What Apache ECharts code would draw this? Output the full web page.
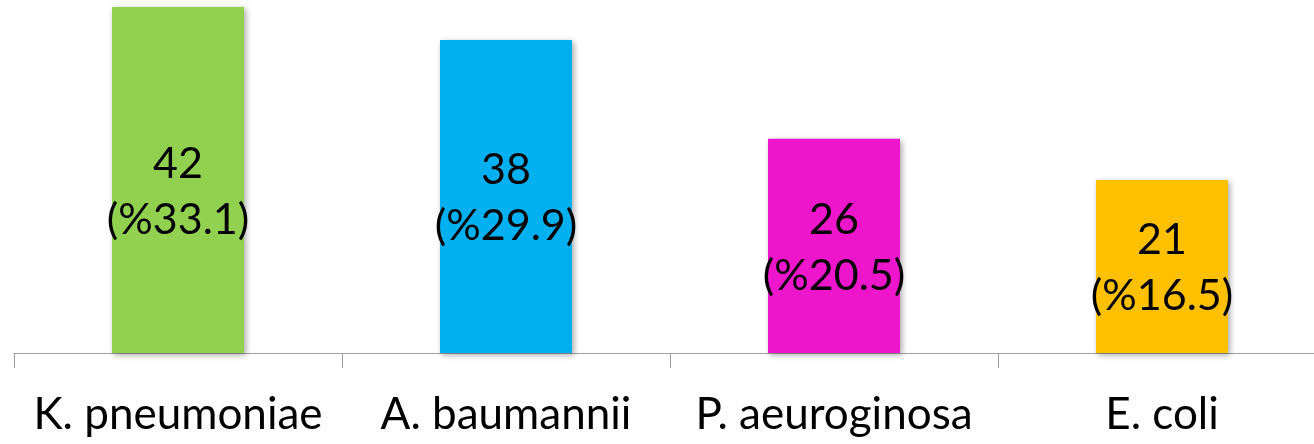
<!DOCTYPE html>
<html>
<head>
<meta charset="utf-8">
<script src="https://cdn.jsdelivr.net/npm/echarts@6/dist/echarts.min.js"></script>
<style>
  html, body { margin: 0; padding: 0; background: #fff; }
  #chart { width: 1314px; height: 444px; }
</style>
</head>
<body>
<div id="chart"></div>
<script>
// Isolates per organism: counts and share of total
const categories = ['K. pneumoniae', 'A. baumannii', 'P. aeuroginosa', 'E. coli'];
const counts = [42, 38, 26, 21];
const percents = ['33.1', '29.9', '20.5', '16.5'];
const barColors = ['#92d050', '#00b0f0', '#ee16cb', '#ffc000'];

const FONT = 'Lato';

const chart = echarts.init(document.getElementById('chart'));
chart.setOption({
  animation: false,
  grid: { left: 14, top: 7, bottom: 91, width: 1312, outerBoundsMode: 'none', containLabel: false },
  xAxis: {
    type: 'category',
    data: categories,
    axisLine: { lineStyle: { color: '#a0a0a0', width: 1 } },
    axisTick: { show: true, interval: 0, length: 15, lineStyle: { color: '#a0a0a0' } },
    axisLabel: { interval: 0, color: '#000', fontFamily: FONT, fontSize: 44, margin: 40 }
  },
  yAxis: {
    type: 'value',
    min: 0,
    max: 42,
    show: false,
    splitLine: { show: false }
  },
  series: [{
    type: 'bar',
    barWidth: 132,
    data: counts.map((v, i) => ({
      value: v,
      itemStyle: { color: barColors[i] },
      // the tallest bar's label sits a little lower than centre
      label: i === 0 ? { offset: [0, 12] } : {}
    })),
    itemStyle: {
      shadowBlur: 6,
      shadowOffsetX: 2,
      shadowOffsetY: 2,
      shadowColor: 'rgba(0,0,0,0.35)'
    },
    label: {
      show: true,
      position: 'inside',
      offset: [0, 2],
      color: '#000',
      fontFamily: FONT,
      fontSize: 43,
      lineHeight: 56,
      formatter: p => p.value + '\n(%' + percents[p.dataIndex] + ')'
    }
  }]
});
</script>
</body>
</html>
